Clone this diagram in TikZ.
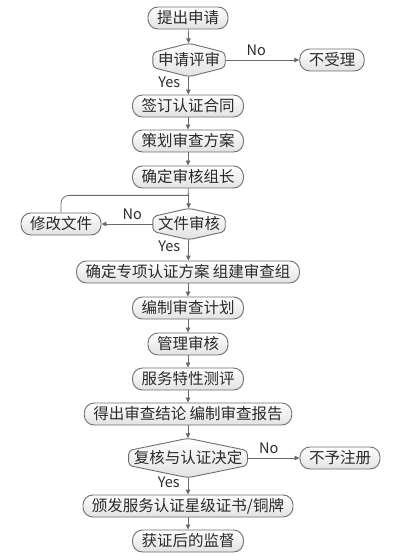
\documentclass[tikz,border=0pt]{standalone}
\usepackage{fontspec}
\setmainfont{Noto Sans CJK SC}
\usepackage{xcolor}
\usetikzlibrary{arrows.meta,calc,backgrounds}
\definecolor{boxline}{HTML}{6E6E6E}
\definecolor{boxfill}{HTML}{E2E2E2}
\definecolor{txt}{HTML}{2A2A2A}
\definecolor{arr}{HTML}{6A6A6A}
\newcommand{\fb}{\fontsize{15.5}{18}\selectfont}
\newcommand{\fl}{\fontsize{14.5}{16}\selectfont}

\begin{document}
\begin{tikzpicture}[x=1pt, y=-1pt,
  box/.style={draw=boxline, line width=0.9pt, rounded corners=10pt, top color=white, bottom color=boxfill,
    minimum height=22pt, inner xsep=9pt, inner ysep=0pt, font=\fb, text=txt},
  decision/.style={rectangle, minimum height=#1, inner xsep=5pt, inner ysep=0pt, font=\fb, text=txt},
  hexline/.style={draw=boxline, line width=0.9pt, rounded corners=4pt, top color=white, bottom color=boxfill},
  link/.style={draw=arr, line width=0.8pt, -{Triangle[length=5pt, width=4.5pt]}},
  tag/.style={font=\fl, text=txt, inner sep=1pt}]
\useasboundingbox (0,0) rectangle (401,556);
% ---- hexagon frame behind a decision node: #1 = node name
\newcommand{\hexframe}[1]{%
  \begin{scope}[on background layer]
  \path[hexline] ($(#1.west)+(0,-7.5)$) -- ($(#1.west)+(0,7.5)$) -- (#1.south)
    -- ($(#1.east)+(0,7.5)$) -- ($(#1.east)+(0,-7.5)$) -- (#1.north) -- cycle;
  \end{scope}}
% ---- main chain
\node[box] (apply) at (188,18) {提出申请};
\node[decision=33pt] (review) at (189,60) {申请评审};
\hexframe{review}
\node[box] (reject) at (332,60) {不受理};
\node[box] (contract) at (188,106) {签订认证合同};
\node[box] (plan) at (188,141) {策划审查方案};
\node[box] (leader) at (188,177) {确定审核组长};
\node[decision=31pt] (docs) at (189,224) {文件审核};
\hexframe{docs}
\node[box] (fix) at (61,224) {修改文件};
\node[box] (scheme) at (188,272) {确定专项认证方案 组建审查组};
\node[box] (schedule) at (188,308) {编制审查计划};
\node[box] (manage) at (188,344) {管理审核};
\node[box] (rate) at (188,379) {服务特性测评};
\node[box] (report) at (188,414) {得出审查结论 编制审查报告};
\node[decision=39pt] (decide) at (188,458) {复核与认证决定};
\hexframe{decide}
\node[box] (refuse) at (340,458) {不予注册};
\node[box] (issue) at (188,506) {颁发服务认证星级证书/铜牌};
\node[box] (watch) at (188,541) {获证后的监督};
% ---- connectors
\draw[link] (apply) -- (review);
\draw[link] (review) -- node[tag, above=3pt, pos=0.42] {No} (reject);
\draw[link] (review) -- node[tag, left=7pt, pos=0.3] {Yes} (contract);
\draw[link] (contract) -- (plan);
\draw[link] (plan) -- (leader);
\draw[link] (leader) -- (docs);
\coordinate (join) at ($(leader.south)!0.35!(docs.north)$);
\draw[draw=arr, line width=0.8pt, rounded corners=8pt] (fix.north) |- (join);
\draw[link] (docs) -- node[tag, above=3pt, pos=0.4] {No} (fix);
\draw[link] (docs) -- node[tag, left=7pt, pos=0.3] {Yes} (scheme);
\draw[link] (scheme) -- (schedule);
\draw[link] (schedule) -- (manage);
\draw[link] (manage) -- (rate);
\draw[link] (rate) -- (report);
\draw[link] (report) -- (decide);
\draw[link] (decide) -- node[tag, above=3pt, pos=0.41] {No} (refuse);
\draw[link] (decide) -- node[tag, left=7pt, pos=0.3] {Yes} (issue);
\draw[link] (issue) -- (watch);
\end{tikzpicture}
\end{document}
